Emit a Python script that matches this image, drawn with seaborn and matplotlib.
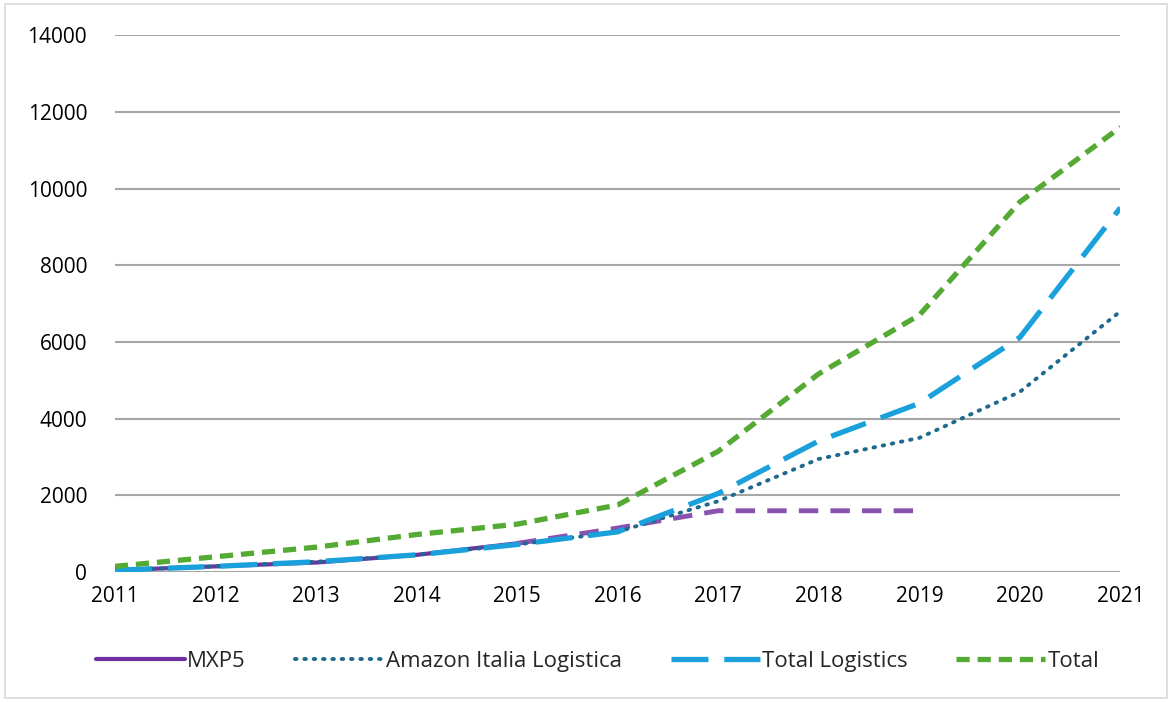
import numpy as np
import pandas as pd
import matplotlib.pyplot as plt
import seaborn as sns
from matplotlib.lines import Line2D
from matplotlib.patches import Rectangle

# ── Data ─────────────────────────────────────────────
years = [2011, 2012, 2013, 2014, 2015, 2016, 2017, 2018, 2019, 2020, 2021]
mxp5_years = [2011, 2012, 2013, 2014, 2015]
mxp5 = [50, 150, 250, 450, 750]
mxp5_fc_years = [2015, 2016, 2017, 2018, 2019]
mxp5_fc = [750, 1150, 1600, 1600, 1600]
amazon = [50, 150, 270, 450, 720, 1050, 1850, 2950, 3500, 4700, 6800]
total_logistics = [50, 150, 270, 450, 720, 1050, 2050, 3420, 4400, 6120, 9500]
total = [150, 400, 650, 980, 1250, 1750, 3150, 5170, 6700, 9650, 11600]

PURPLE = "#7030A0"
TEAL = "#1D6A8E"
BLUE = "#1AA1DC"
GREEN = "#55AA33"

sns.set_style("white")
plt.rcParams['font.family'] = ['Open Sans', 'DejaVu Sans']

fig = plt.figure(figsize=(11.72, 7.02), dpi=100)
ax = fig.add_axes([0.098, 0.185, 0.858, 0.765])

sns.lineplot(x=mxp5_years, y=mxp5, color=PURPLE, lw=3, ax=ax, zorder=2)
sns.lineplot(x=mxp5_fc_years, y=mxp5_fc, color="#7D3FA8", lw=3.5, ax=ax,
             zorder=2, alpha=0.9).lines[-1].set_dashes([4, 2.5])
l = sns.lineplot(x=years, y=amazon, color=TEAL, lw=2.8, ax=ax, zorder=3).lines[-1]
l.set_linestyle((0, (0.4, 2.0)))
l.set_dash_capstyle('round')
l = sns.lineplot(x=years, y=total_logistics, color=BLUE, lw=3.8, ax=ax, zorder=4).lines[-1]
l.set_dashes([7, 3])
l = sns.lineplot(x=years, y=total, color=GREEN, lw=3.8, ax=ax, zorder=5).lines[-1]
l.set_dashes([2.5, 1.5])

ax.set_xlim(2011, 2021)
ax.set_ylim(0, 14000)
ax.set_yticks(np.arange(0, 14001, 2000))
ax.set_xticks(years)
ax.yaxis.grid(True, color="#A6A6A6", lw=1.5)
ax.xaxis.grid(False)
for s in ax.spines.values():
    s.set_visible(False)
ax.axhline(0, color="#A6A6A6", lw=1.8, zorder=1)
ax.tick_params(axis='both', length=0, labelsize=15, colors='black')
ax.tick_params(axis='y', pad=20)
ax.tick_params(axis='x', pad=10)
ax.set_xlabel('')
ax.set_ylabel('')

handles = [
    Line2D([0], [0], color=PURPLE, lw=3),
    Line2D([0], [0], color=TEAL, lw=2.8, linestyle=(0, (0.4, 2.0)), dash_capstyle='round'),
    Line2D([0], [0], color=BLUE, lw=3.8, dashes=[7, 3]),
    Line2D([0], [0], color=GREEN, lw=3.8, dashes=[2.5, 1.5]),
]
labels = ['MXP5', 'Amazon Italia Logistica', 'Total Logistics', 'Total']
fig.legend(handles, labels, loc='center', bbox_to_anchor=(0.51, 0.058), ncol=4,
           frameon=False, fontsize=16, handlelength=4.0, handletextpad=0.1,
           columnspacing=2.2)

fig.add_artist(Rectangle((0.004, 0.006), 0.992, 0.988, transform=fig.transFigure,
                         fill=False, edgecolor="#D9D9D9", lw=1.2))

fig.savefig('out.png', dpi=100, facecolor='white')
